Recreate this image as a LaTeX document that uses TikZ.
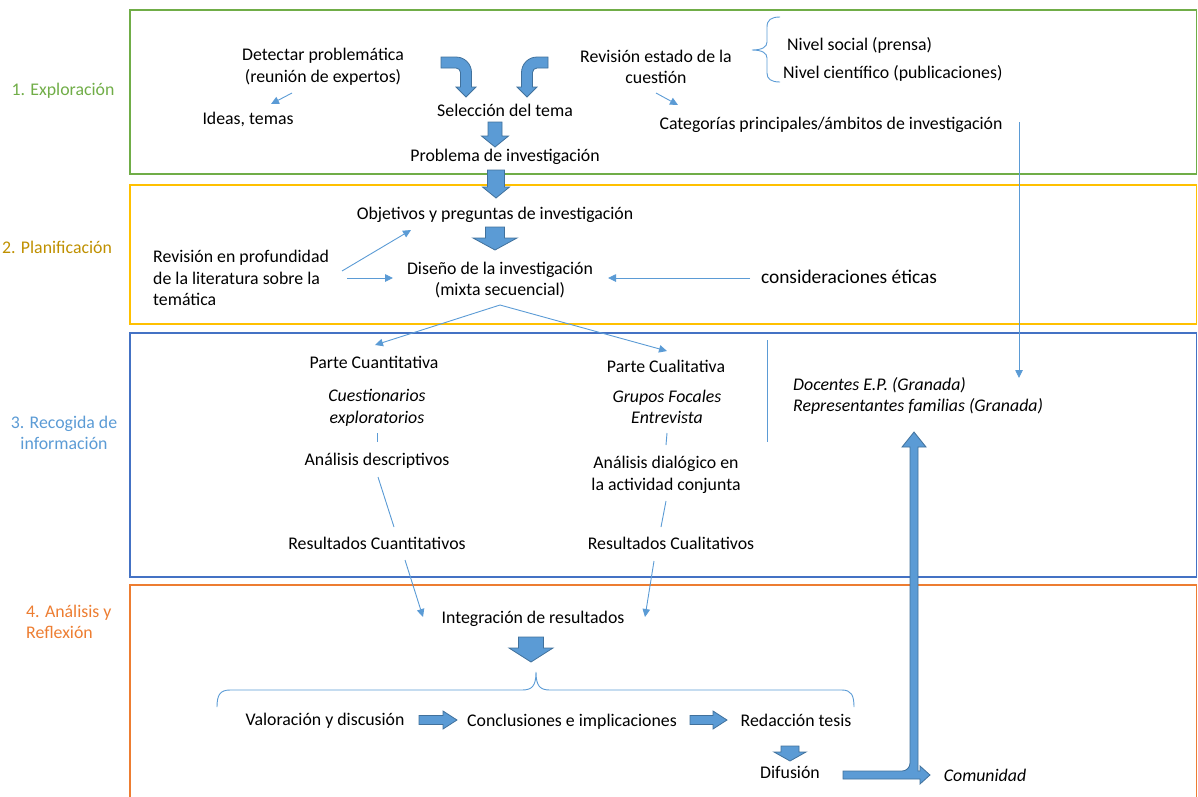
\documentclass[tikz,border=0pt]{standalone}
\usepackage{fontspec}
\setmainfont{Carlito}
\usetikzlibrary{arrows.meta,calc}

\definecolor{grn}{HTML}{70AD47}
\definecolor{goldline}{HTML}{FFC000}
\definecolor{goldtxt}{HTML}{BF9000}
\definecolor{boxblue}{HTML}{4472C4}
\definecolor{lblue}{HTML}{5B9BD5}
\definecolor{orng}{HTML}{ED7D31}
\definecolor{fillblue}{HTML}{5B9BD5}
\definecolor{edgeblue}{HTML}{41719C}

\newcommand\bodyfont{\fontsize{17.8}{21.7}\selectfont}

% thick block arrow: start point, rotation, length, head length, shaft half width, head half width
\newcommand\fatarrow[6]{%
  \filldraw[blockarrow, shift={#1}, rotate=#2]
    (0,-#5) -- ({#3-#4},-#5) -- ({#3-#4},-#6) -- (#3,0) -- ({#3-#4},#6)
    -- ({#3-#4},#5) -- (0,#5) -- cycle;}

\tikzset{
  tx/.style={inner sep=0pt, font=\bodyfont, align=center},
  one/.style={text height=14.5pt, text depth=1.5pt},
  multi/.style={yshift=-2pt},
  it/.style={font=\bodyfont\itshape},
  conn/.style={draw=lblue, line width=0.9pt, -{Triangle[length=8pt,width=7.5pt]}},
  link/.style={draw=lblue, line width=0.9pt},
  bracket/.style={draw=lblue, line width=0.9pt},
  blockarrow/.style={fill=fillblue, draw=edgeblue, line width=0.8pt, line join=miter},
  frame/.style={line width=1.5pt},
}

\begin{document}
\begin{tikzpicture}[x=1pt,y=-1pt]
\useasboundingbox (0,0) rectangle (1198,796);
\clip (0,0) rectangle (1198,796);

% phase frames
\draw[frame, draw=grn] (130,10) rectangle (1196.5,174);
\draw[frame, draw=goldline] (130,185) rectangle (1196.5,324);
\draw[frame, draw=boxblue] (130,333) rectangle (1196.5,577);
\draw[frame, draw=orng] (130,800) -- (130,585) -- (1196.5,585) -- (1196.5,800);

% phase labels
\node[tx, one, text=grn] (lab1) at (63,89) {1. Exploración};
\node[tx, one, text=goldtxt] (lab2) at (57,247) {2. Planificación};
\node[tx, multi, text=lblue] (lab3) at (64,431) {3. Recogida de\\información};
\node[tx, multi, text=orng, align=left, anchor=west] (lab4) at (26,620) {4. Análisis y\\Reflexión};

% 1. Exploración
\node[tx, multi] (det) at (323,65) {Detectar problemática\\(reunión de expertos)};
\node[tx, one] (ideas) at (248,118) {Ideas, temas};
\node[tx, one] (sel) at (505,110) {Selección del tema};
\node[tx, multi] (rev) at (656,65) {Revisión estado de la\\cuestión};
\node[tx, one, anchor=west] (niv1) at (787,44) {Nivel social (prensa)};
\node[tx, one, anchor=west] (niv2) at (783,72) {Nivel científico (publicaciones)};
\node[tx, one] (cat) at (831,123) {Categorías principales/ámbitos de investigación};
\node[tx, one] (prob) at (505,155) {Problema de investigación};

% 2. Planificación
\node[tx, one] (obj) at (495,213) {Objetivos y preguntas de investigación};
\node[tx, multi, align=left, anchor=west] (lit) at (153,276) {Revisión en profundidad\\de la literatura sobre la\\temática};
\node[tx, multi] (dis) at (500,278) {Diseño de la investigación\\(mixta secuencial)};
\node[tx, one, font=\fontsize{19.4}{23}\selectfont] (etic) at (849,277) {consideraciones éticas};

% 3. Recogida de información
\node[tx, one] (pcuan) at (374,362) {Parte Cuantitativa};
\node[tx, one] (pcual) at (666,366) {Parte Cualitativa};
\node[tx, multi, it] (cues) at (377,406) {Cuestionarios\\exploratorios};
\node[tx, multi, it] (grup) at (667,405) {Grupos Focales\\Entrevista};
\node[tx, one] (adesc) at (377,459) {Análisis descriptivos};
\node[tx, multi] (adial) at (666,473) {Análisis dialógico en\\la actividad conjunta};
\node[tx, one] (rcuan) at (377,543) {Resultados Cuantitativos};
\node[tx, one] (rcual) at (671,543) {Resultados Cualitativos};
\node[tx, multi, it, align=left, anchor=west] (doc) at (793,394) {Docentes E.P. (Granada)\\Representantes familias (Granada)};

% 4. Análisis y Reflexión
\node[tx, one] (integ) at (533,617) {Integración de resultados};
\node[tx, one] (val) at (325,719) {Valoración y discusión};
\node[tx, one] (conc) at (572,720) {Conclusiones e implicaciones};
\node[tx, one] (red) at (796,720) {Redacción tesis};
\node[tx, one] (dif) at (790,772) {Difusión};
\node[tx, one, it] (com) at (985,775) {Comunidad};

% thin connectors
\draw[conn] ($(det.center)+(-31,26)$) -- ($(ideas.center)+(23,-14)$);
\draw[conn] ($(rev.center)+(0,26)$) -- ($(cat.center)+(-153,-18)$);
\draw[conn] ($(lit.west)+(189,-7)$) -- ($(obj.center)+(-84,17)$);
\draw[conn] ($(lit.west)+(194,0)$) -- ($(dis.center)+(-107,-2)$);
\draw[conn] ($(etic.center)+(-99,1)$) -- ($(dis.center)+(108,-2)$);
\draw[conn] ($(dis.center)+(0,25)$) -- ($(pcuan.center)+(1,-17)$);
\draw[conn] ($(dis.center)+(0,25)$) -- ($(pcual.center)+(1,-15)$);
\draw[link] ($(cues.center)+(0,25)$) -- ($(adesc.center)+(0,-17)$);
\draw[link] ($(adesc.center)+(1,18)$) -- ($(rcuan.center)+(17,-16)$);
\draw[conn] ($(rcuan.center)+(28,17)$) -- ($(integ.center)+(-110,0)$);
\draw[link] ($(grup.center)+(0,26)$) -- ($(adial.center)+(0,-30)$);
\draw[link] ($(adial.center)+(0,26)$) -- ($(rcual.center)+(-10,-16)$);
\draw[conn] ($(rcual.center)+(-17,18)$) -- ($(integ.center)+(112,0)$);
\draw[conn] ($(cat.center)+(188,-1)$) -- ($(doc.west)+(226,-18)$);

% separator beside the qualitative column
\draw[link] (767,340) -- (767,442);

% brace grouping the two review levels
\draw[bracket] (780,17) .. controls (771,17) and (767,20) .. (767,27) -- (767,42)
  .. controls (767,47) and (762,50) .. (752,50)
  .. controls (762,50) and (767,53) .. (767,58) -- (767,73)
  .. controls (767,79) and (771,82) .. (780,82);

% brace over the closing steps
\draw[bracket] (217,707) .. controls (217,695) and (220,690) .. (230,690) -- (522,690)
  .. controls (532,690) and (536,686) .. (536,672)
  .. controls (536,686) and (540,690) .. (550,690) -- (842,690)
  .. controls (851,690) and (854,695) .. (854,707);

% bent block arrows into the topic selection
\begin{scope}[shift={(sel.center)}]
  \filldraw[blockarrow] (-64,-53) -- (-49,-53) arc[start angle=-90,end angle=0,radius=15.5]
    -- (-33.5,-23) -- (-29,-23) -- (-39,-13) -- (-49,-23) -- (-44.5,-23) -- (-44.5,-37.5)
    arc[start angle=0,end angle=-90,radius=4.5] -- (-64,-42) -- cycle;
  \filldraw[blockarrow] (43,-53) -- (32,-53) arc[start angle=-90,end angle=-180,radius=15.5]
    -- (16.5,-23) -- (12,-23) -- (22,-13) -- (32,-23) -- (27.5,-23) -- (27.5,-37.5)
    arc[start angle=180,end angle=270,radius=4.5] -- (43,-42) -- cycle;
\end{scope}

% straight block arrows
\fatarrow{($(sel.center)+(-10,12)$)}{-90}{25}{11}{7}{13.5}
\fatarrow{($(prob.center)+(-9,15)$)}{-90}{28}{11}{8.5}{13.5}
\fatarrow{($(obj.center)+(0,14)$)}{-90}{23}{12}{9.5}{22}
\fatarrow{($(integ.center)+(-2,20)$)}{-90}{25}{14}{12.5}{22}
\fatarrow{($(val.center)+(94,1)$)}{0}{38}{14}{4.5}{9}
\fatarrow{($(conc.center)+(118,0)$)}{0}{37}{14}{4.5}{9}
\fatarrow{($(red.center)+(-6,26)$)}{-90}{15}{9}{9}{16}

% dissemination arrow to the community, branching back up to the participants
\begin{scope}[shift={(dif.center)}]
  \filldraw[blockarrow] (53,-1) -- (112,-1) arc[start angle=90,end angle=0,radius=8]
    -- (120,-325) -- (112,-325) -- (124,-340) -- (136,-325) -- (128,-325)
    -- (128,-1) -- (130,-1) -- (130,-6) -- (140,3) -- (130,12) -- (130,7) -- (53,7) -- cycle;
\end{scope}
\end{tikzpicture}
\end{document}
